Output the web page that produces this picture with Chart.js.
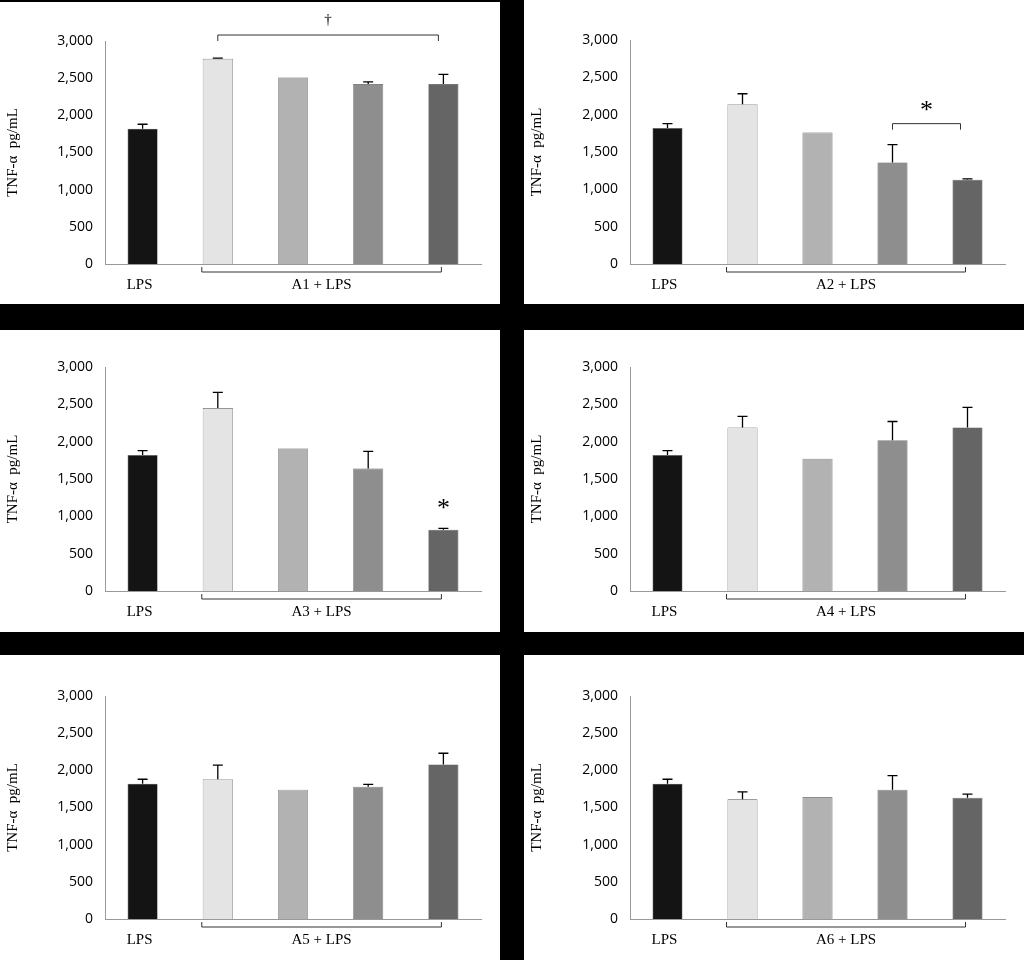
<!DOCTYPE html>
<html>
<head>
<meta charset="utf-8">
<script src="https://cdn.jsdelivr.net/npm/chart.js@4"></script>
<style>
body{margin:0;background:#000;width:1024px;height:960px;position:relative;overflow:hidden}
.p{position:absolute;background:#fff}
</style>
</head>
<body>
<script>
// categories and values
const groups = ["LPS","A","B","C","D"];
const panelNames = ["A1","A2","A3","A4","A5","A6"];
const tickLabels = [0,500,1000,1500,2000,2500,3000];

const a1Mean = [1820,2760,2510,2420,2420];
const a1Err  = [60,10,0,30,130];
const a2Mean = [1820,2140,1760,1360,1130];
const a2Err  = [60,140,0,240,10];
const a3Mean = [1820,2450,1910,1640,820];
const a3Err  = [60,210,0,230,20];
const a4Mean = [1820,2190,1770,2020,2190];
const a4Err  = [60,150,0,250,270];
const a5Mean = [1820,1880,1740,1780,2080];
const a5Err  = [60,190,0,30,150];
const a6Mean = [1820,1610,1640,1740,1630];
const a6Err  = [60,100,0,190,50];

const means = [a1Mean,a2Mean,a3Mean,a4Mean,a5Mean,a6Mean];
const errs = [a1Err,a2Err,a3Err,a4Err,a5Err,a6Err];

const barColors = ["#141414","#e4e4e4","#b2b2b2","#8e8e8e","#656565"];

// panel boxes: left, top, width, height, chart top (rel), chart bottom (rel)
const boxes = [
[0,2,500,302],[524,0,500,304],
[0,330,500,302],[524,330,500,302],
[0,655,500,305],[524,655,500,305]
];
const axisTop = [39,40,37,37,41,41];
const axisLeft = [105,106,105,106,105,106];

function shade(ctx,c){
const ch=ctx.chart, a=ch.chartArea;
if(!a) return c;
const el=ctx.element;
if(!el||el.x===undefined) return c;
const g=ch.ctx.createLinearGradient(el.x-15,0,el.x+15,0);
g.addColorStop(0,c);
g.addColorStop(0.15,c);
g.addColorStop(0.5,c);
g.addColorStop(0.85,c);
g.addColorStop(1,"#444");
return g;
}

function makePanel(i){
const b=boxes[i];
const div=document.createElement("div");
div.className="p";
div.style.left=b[0]+"px";div.style.top=b[1]+"px";
div.style.width=b[2]+"px";div.style.height=b[3]+"px";
const cv=document.createElement("canvas");
cv.width=b[2];cv.height=b[3];
div.appendChild(cv);
document.body.appendChild(div);
const bottom = (i<2?264:(i<4?591:919)) - b[1];

const extras={
id:"extras",
afterDatasetsDraw(chart){
const c=chart.ctx, meta=chart.getDatasetMeta(0), y=chart.scales.y;
c.save();
c.strokeStyle="#000";c.lineWidth=1.3;
meta.data.forEach((bar,k)=>{
if(!errs[i][k]) return;
const top=y.getPixelForValue(means[i][k]+errs[i][k]);
c.beginPath();
c.moveTo(bar.x,bar.y);c.lineTo(bar.x,top);
c.moveTo(bar.x-5,top);c.lineTo(bar.x+5,top);
c.stroke();
});
// bracket under the treated bars
const x1=meta.data[1].x-16, x2=meta.data[4].x-2, by=chart.chartArea.bottom+8;
c.strokeStyle="#333";c.lineWidth=1;
c.beginPath();
c.moveTo(x1,by-5);c.lineTo(x1,by);c.lineTo(x2,by);c.lineTo(x2,by-5);
c.stroke();
c.fillStyle="#000";c.font="15px 'Liberation Serif'";c.textAlign="center";c.textBaseline="middle";
c.fillText("LPS",meta.data[0].x-3,by+13);
c.fillText(panelNames[i]+" + LPS",(x1+x2)/2,by+13);
if(i===0){
const tx1=meta.data[1].x, tx2=meta.data[4].x-5, ty=chart.chartArea.top-6;
c.beginPath();
c.moveTo(tx1,ty+6);c.lineTo(tx1,ty);c.lineTo(tx2,ty);c.lineTo(tx2,ty+6);
c.stroke();
c.font="15px 'Liberation Serif'";
c.fillText("†",(tx1+tx2)/2,ty-15);
}
if(i===1){
const tx1=meta.data[3].x, tx2=meta.data[4].x-7, ty=y.getPixelForValue(1880);
c.beginPath();
c.moveTo(tx1,ty+6);c.lineTo(tx1,ty);c.lineTo(tx2,ty);c.lineTo(tx2,ty+6);
c.stroke();
c.font="26px 'Liberation Serif'";
c.fillText("*",(tx1+tx2)/2,ty-12);
}
if(i===2){
c.font="26px 'Liberation Serif'";
c.fillText("*",meta.data[4].x,y.getPixelForValue(1100));
}
c.restore();
}
};

new Chart(cv,{
type:"bar",
data:{labels:groups,datasets:[{
data:means[i],
backgroundColor:ctx=>shade(ctx,barColors[ctx.dataIndex]),
borderColor:"#555",borderWidth:0.6,
barPercentage:0.4,categoryPercentage:1
}]},
options:{
responsive:false,animation:false,
layout:{padding:{top:axisTop[i],right:19,left:0,bottom:0}},
plugins:{legend:{display:false},tooltip:{enabled:false}},
scales:{
x:{grid:{display:false},border:{color:"#999"},ticks:{display:false},
afterFit:s=>{s.height=b[3]-bottom;}},
y:{min:0,max:3000,
afterBuildTicks:s=>{s.ticks=tickLabels.map(v=>({value:v}));},
afterFit:s=>{s.width=axisLeft[i];},
grid:{display:false,drawTicks:false},border:{color:"#999"},
ticks:{color:"#000",font:{family:"'Open Sans'",size:14},padding:12},
title:{display:true,text:"TNF-α  pg/mL",color:"#000",font:{family:"'Liberation Serif'",size:15},padding:{bottom:8}}
}
}
},
plugins:[extras]
});
}

for(let i=0;i<6;i++) makePanel(i);
</script>
</body>
</html>
